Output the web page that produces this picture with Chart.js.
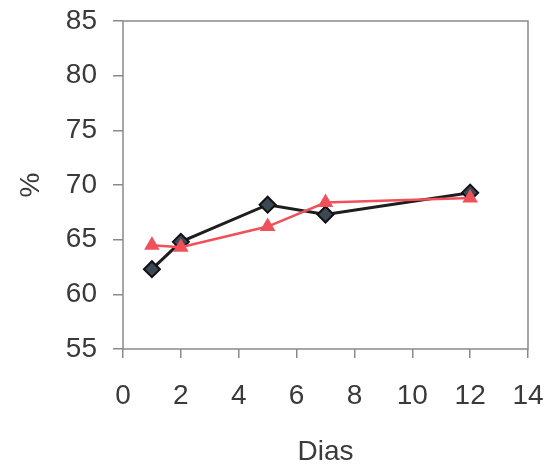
<!DOCTYPE html>
<html>
<head>
<meta charset="utf-8">
<script src="https://cdn.jsdelivr.net/npm/chart.js@4"></script>
<style>
  html, body { margin: 0; padding: 0; background: #fff; }
</style>
</head>
<body>
<canvas id="myChart" width="550" height="469"></canvas>
<script>
const dias = [1, 2, 5, 7, 12];
const serieA = [62.3, 64.8, 68.2, 67.3, 69.3];
const serieB = [64.5, 64.3, 66.2, 68.4, 68.8];
const xTicks = [0, 2, 4, 6, 8, 10, 12, 14];
const yTicks = [55, 60, 65, 70, 75, 80, 85];

const toPoints = vals => dias.map((d, i) => ({ x: d, y: vals[i] }));

// borda cinza em volta da área do gráfico
const boxPlugin = {
    id: 'box',
    afterDraw(c) {
        const a = c.chartArea;
        const ctx = c.ctx;
        ctx.save();
        ctx.strokeStyle = '#8a8a8a';
        ctx.lineWidth = 1.5;
        ctx.strokeRect(a.left, a.top, a.right - a.left, a.bottom - a.top);
        ctx.restore();
    }
};

const font = { family: 'Liberation Sans, Arial, sans-serif', size: 28 };

const ctx = document.getElementById('myChart').getContext('2d');
const chart = new Chart(ctx, {
    type: 'scatter',
    data: {
        datasets: [{
            data: toPoints(serieB),
            showLine: true,
            borderColor: '#f0505a',
            backgroundColor: '#f0505a',
            borderWidth: 2.5,
            pointStyle: 'triangle',
            pointRadius: 9,
            pointBorderWidth: 0
        }, {
            data: toPoints(serieA),
            showLine: true,
            borderColor: '#1e1e1e',
            backgroundColor: '#3c4856',
            borderWidth: 3,
            pointStyle: 'rectRot',
            pointRadius: 8,
            pointBorderWidth: 2,
            pointBorderColor: '#111'
        }]
    },
    options: {
        responsive: false,
        animation: false,
        devicePixelRatio: 1,
        layout: { padding: { left: 14, top: 21, right: 22, bottom: 0 } },
        plugins: { legend: { display: false }, tooltip: { enabled: false } },
        scales: {
            x: {
                type: 'linear',
                min: 0, max: 14,
                afterBuildTicks: s => { s.ticks = xTicks.map(v => ({ value: v })); },
                afterFit: s => { s.height = 120; s.paddingLeft = 0; s.paddingRight = 0; },
                grid: { drawOnChartArea: false, tickLength: 9, color: '#8a8a8a', lineWidth: 1.5 },
                border: { display: false },
                ticks: { color: '#3a3a3a', font: font, padding: 21, maxRotation: 0, autoSkip: false },
                title: { display: true, text: 'Dias', color: '#3a3a3a', font: font, padding: { top: 14, bottom: 0 } }
            },
            y: {
                type: 'linear',
                min: 55, max: 85,
                afterBuildTicks: s => { s.ticks = yTicks.map(v => ({ value: v })); },
                afterFit: s => { s.width = 109; s.paddingTop = 0; s.paddingBottom = 0; },
                grid: { drawOnChartArea: false, tickLength: 10, color: '#8a8a8a', lineWidth: 1.5 },
                border: { display: false },
                ticks: { color: '#3a3a3a', font: font, padding: 16, autoSkip: false },
                title: { display: true, text: '%', color: '#3a3a3a', font: font, padding: 0 }
            }
        }
    },
    plugins: [boxPlugin]
});
</script>
</body>
</html>
